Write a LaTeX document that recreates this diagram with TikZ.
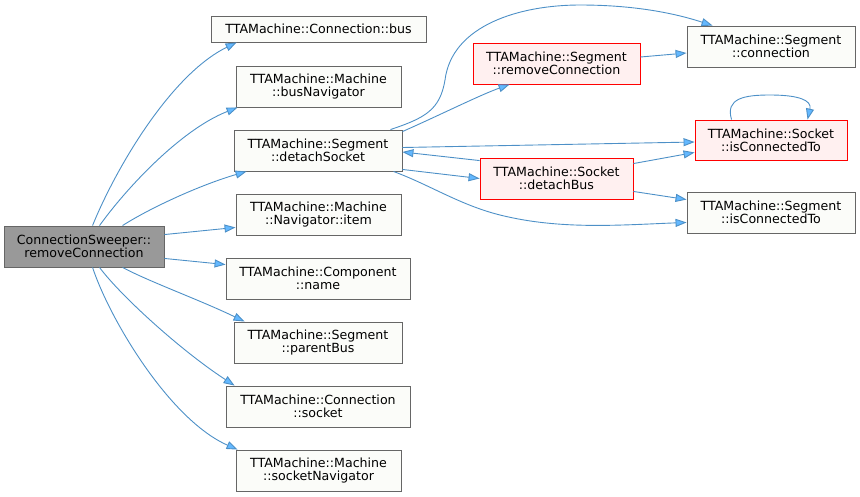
\documentclass[tikz,border=0pt]{standalone}
\usepackage{fontspec}
\setmainfont{DejaVu Sans}
\usetikzlibrary{arrows.meta, positioning}
\definecolor{edgeblue}{HTML}{63B8FF}
\definecolor{boxline}{HTML}{666666}
\definecolor{boxfill}{HTML}{FBFCF9}
\definecolor{rootfill}{HTML}{999999}
\definecolor{hotfill}{HTML}{FFF0F0}

\begin{document}
\begin{tikzpicture}[x=1pt, y=-1pt]

% TikZ styles
\tikzset{
  func/.style={rectangle, draw=boxline, fill=boxfill, line width=0.9pt, inner sep=0pt, minimum height=41pt, align=center, font=\fontsize{12.6}{13.3}\selectfont},
  hot/.style={func, draw=red},
  hot/.append style={fill=hotfill},
  caller/.style={func, fill=rootfill},
  call/.style={-{Triangle[length=11pt, width=8pt, fill=edgeblue]}, draw=edgeblue!78!black, line width=0.9pt}
};

\useasboundingbox (0,0) rectangle (860,496);

% --- Aufrufer ---
\node[caller, minimum width=160pt] (sweeper) at (84,246.5) {ConnectionSweeper::\\removeConnection};

% --- Direkte Aufrufe ---
\node[func, minimum width=215pt, minimum height=26pt] (bus) at (318.5,29) {TTAMachine::Connection::bus};
\node[func, minimum width=165pt] (busnav)    at (318.5,86.5)  {TTAMachine::Machine\\::busNavigator};
\node[func, minimum width=168pt] (detsocket) at (318,150.5)   {TTAMachine::Segment\\::detachSocket};
\node[func, minimum width=165pt] (item)      at (318.5,214.5) {TTAMachine::Machine\\::Navigator::item};
\node[func, minimum width=184pt] (name)      at (318,278.5)   {TTAMachine::Component\\::name};
\node[func, minimum width=168pt] (parentbus) at (318,342.5)   {TTAMachine::Segment\\::parentBus};
\node[func, minimum width=184pt] (socket)    at (318,406.5)   {TTAMachine::Connection\\::socket};
\node[func, minimum width=165pt] (socknav)   at (318.5,470.5) {TTAMachine::Machine\\::socketNavigator};

% --- Zweite Ebene ---
\node[hot, minimum width=167pt]  (remconn)   at (556.5,63.5)  {TTAMachine::Segment\\::removeConnection};
\node[hot, minimum width=153pt]  (detbus)    at (556.5,178.5) {TTAMachine::Socket\\::detachBus};
\node[func, minimum width=168pt] (segconn)   at (771,46.5)    {TTAMachine::Segment\\::connection};
\node[hot, minimum width=152pt, minimum height=40pt] (sockisconn) at (771,140) {TTAMachine::Socket\\::isConnectedTo};
\node[func, minimum width=168pt] (segisconn) at (771,212.5)   {TTAMachine::Segment\\::isConnectedTo};

% --- Pfeile vom Aufrufer ---
\draw[call] ([xshift=89pt]sweeper.north west) .. controls (115,170) and (170,75) .. ([xshift=26pt]bus.south west);
\draw[call] ([xshift=96pt]sweeper.north west) .. controls (125,190) and (180,130) .. ([xshift=2pt]busnav.south west);
\draw[call] ([xshift=119pt]sweeper.north west) .. controls (150,208) and (200,185) .. ([xshift=13pt]detsocket.south west);
\draw[call] ([yshift=-9pt]sweeper.north east) -- ([yshift=8pt]item.south west);
\draw[call] ([yshift=9pt]sweeper.south east) -- ([yshift=-7pt]name.north west);
\draw[call] ([xshift=119pt]sweeper.south west) .. controls (150,282) and (200,300) .. ([xshift=11pt]parentbus.north west);
\draw[call] ([xshift=96pt]sweeper.south west) .. controls (120,295) and (180,350) .. ([xshift=9pt]socket.north west);
\draw[call] ([xshift=89pt]sweeper.south west) .. controls (110,320) and (170,420) .. ([xshift=2pt]socknav.north west);

% --- Pfeile von detachSocket ---
\draw[call] ([xshift=-12pt]detsocket.north east) .. controls (425,118) and (440,110) .. (445,80)
  .. controls (452,25) and (520,5) .. (580,5) .. controls (640,5) and (680,15) .. ([xshift=26pt]segconn.north west);
\draw[call] ([yshift=-2pt]detsocket.north east) .. controls (440,115) and (480,95) .. ([xshift=37pt]remconn.south west);
\draw[call] ([yshift=3pt]detsocket.east) -- ([yshift=-2pt]sockisconn.west);
\draw[call] ([yshift=2pt]detsocket.south east) -- (detbus.west);
\draw[call] ([xshift=-9pt]detsocket.south east) .. controls (430,185) and (460,205) .. (500,215)
  .. controls (560,230) and (620,225) .. ([yshift=11pt]segisconn.south west);

% --- Pfeile der zweiten Ebene ---
\draw[call] ([yshift=-3pt]detbus.north west) -- ([yshift=-1.5pt]detsocket.east);
\draw[call] ([yshift=-6pt]detbus.north east) -- ([yshift=8pt]sockisconn.south west);
\draw[call] ([yshift=8pt]detbus.south east) -- ([yshift=-8pt]segisconn.north west);
\draw[call] ([yshift=6.5pt]remconn.east) -- ([yshift=-6.5pt]segconn.west);
\draw[call] ([xshift=37pt]sockisconn.north west) .. controls (725,98) and (745,95) .. (770,95)
  .. controls (798,95) and (812,100) .. ([xshift=113pt]sockisconn.north west);

\end{tikzpicture}
\end{document}
